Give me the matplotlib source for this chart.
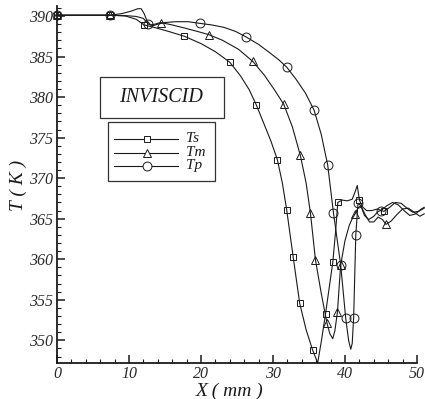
import matplotlib
matplotlib.use("Agg")
import matplotlib.pyplot as plt
from matplotlib.lines import Line2D
from matplotlib.patches import Rectangle
from matplotlib.ticker import MultipleLocator

# ---- data: temperature profiles along X (mm) ----
ts_x = [0, 7.4, 9.5, 11.0, 12.1, 13.5, 15.5, 17.7, 20.0, 22.0, 24.0, 25.5, 26.7, 27.7,
        28.7, 29.7, 30.6, 31.3, 31.9, 32.8, 33.7, 34.6, 35.5, 35.9, 36.2, 36.7, 37.3,
        38.3, 38.7, 39.0, 39.6, 40.3, 41.0, 41.4, 41.7, 42.0, 42.4, 43.0, 43.7, 44.5,
        45.4, 46.2, 47.0, 47.8, 48.6, 49.4, 50.2, 51.0]
ts_t = [390.1, 390.1, 390.0, 389.6, 388.9, 388.6, 388.1, 387.5, 386.6, 385.6, 384.3,
        382.6, 380.9, 379.0, 376.8, 374.6, 372.3, 369.4, 366.1, 360.3, 354.6, 351.3,
        348.8, 347.9, 347.2, 349.8, 353.3, 359.6, 363.5, 367.0, 367.3, 367.2, 367.4,
        368.3, 369.1, 367.3, 366.5, 366.0, 366.0, 366.2, 365.9, 366.4, 367.0, 366.9,
        366.3, 365.8, 365.9, 366.3]
ts_marks = [0, 7.4, 12.1, 17.7, 24.0, 27.7, 30.6, 31.9, 32.8, 33.7, 35.5, 37.3, 38.3,
            39.0, 42.0, 45.4]

tm_x = [0, 7.4, 9.0, 10.3, 11.2, 11.7, 12.1, 12.5, 13.0, 13.6, 14.4, 16.0, 17.8, 19.5,
        21.1, 23.0, 25.2, 27.2, 28.8, 30.2, 31.5, 32.7, 33.8, 34.6, 35.2, 35.9, 36.7,
        37.5, 37.9, 38.3, 38.6, 38.95, 39.4, 40.0, 40.6, 41.0, 41.4, 41.8, 42.2, 42.8,
        43.4, 44.0, 44.6, 45.2, 45.7, 46.4, 47.2, 48.0, 48.8, 49.6, 50.4, 51.0]
tm_t = [390.1, 390.1, 390.3, 390.6, 390.9, 390.9, 390.3, 389.4, 388.9, 389.0, 389.2,
        388.9, 388.5, 388.1, 387.7, 387.0, 385.9, 384.4, 382.7, 380.9, 379.1, 376.3,
        372.8, 369.4, 365.7, 359.9, 355.8, 352.1, 350.8, 350.2, 351.2, 353.5, 359.3,
        362.3, 364.2, 365.0, 365.6, 366.3, 366.6, 365.5, 364.6, 364.6, 365.2, 364.9,
        364.3, 364.7, 365.5, 366.2, 366.3, 365.8, 365.3, 365.6]
tm_marks = [0, 7.4, 14.4, 21.1, 27.2, 31.5, 33.8, 35.2, 35.9, 37.5, 38.95, 39.4, 41.4,
            45.7]

tp_x = [0, 7.4, 9.5, 11.0, 12.0, 12.7, 13.3, 14.0, 15.0, 16.5, 18.2, 19.8, 21.5, 23.2,
        24.8, 26.3, 28.0, 29.5, 30.8, 31.9, 33.2, 34.5, 35.7, 36.7, 37.6, 38.4, 39.4,
        40.1, 40.5, 40.8, 41.0, 41.2, 41.5, 41.8, 42.2, 42.7, 43.3, 44.0, 44.6, 45.0,
        45.8, 46.6, 47.4, 48.2, 49.0, 49.8, 50.6, 51.0]
tp_t = [390.1, 390.1, 390.05, 389.95, 389.7, 389.0, 388.8, 389.0, 389.2, 389.3, 389.3,
        389.1, 388.9, 388.6, 388.1, 387.4, 386.5, 385.5, 384.6, 383.7, 382.2, 380.5,
        378.4, 375.4, 371.6, 365.7, 359.3, 352.7, 350.0, 348.9, 349.6, 352.8, 363.0,
        366.9, 366.6, 365.4, 364.9, 365.3, 365.9, 366.0, 366.6, 367.0, 366.7, 366.0,
        365.4, 365.6, 366.2, 366.4]
tp_marks = [0, 7.4, 12.7, 19.8, 26.3, 31.9, 35.7, 37.6, 38.4, 39.4, 40.1, 41.2, 41.5,
            41.8, 45.0]

series_labels = ["Ts", "Tm", "Tp"]
x_ticks = [0, 10, 20, 30, 40, 50]
y_ticks = [350, 355, 360, 365, 370, 375, 380, 385, 390]
panel_title = "INVISCID"

W, H = 425, 399
fig = plt.figure(figsize=(W / 100, H / 100), dpi=100)
plt.rcParams["font.family"] = ["Liberation Serif", "DejaVu Serif"]


def fx(px):
    return px / W


def fy(py):
    return 1 - py / H


ax = fig.add_axes([fx(57), fy(363), fx(424.2) - fx(57), fy(6.3) - fy(363)])
ax.set_xlim(0, 51)
ax.set_ylim(347.2, 391.2)

ink = "#1a1a1a"
styles = [("s", 4.6), ("^", 5.2), ("o", 6.4)]
curves = [(ts_x, ts_t, ts_marks), (tm_x, tm_t, tm_marks), (tp_x, tp_t, tp_marks)]
handles = []
for (xs, ts, marks), (mk, ms), lab in zip(curves, styles, series_labels):
    idx = [xs.index(m) for m in marks]
    ax.plot(xs, ts, color=ink, lw=0.8, marker=mk, ms=ms, mfc="none", mec=ink,
            mew=0.7, markevery=idx, clip_on=False, zorder=3)
    handles.append((mk, ms, lab))

for side in ("top", "right"):
    ax.spines[side].set_visible(False)
ax.spines["bottom"].set_bounds(0, 50)
for side in ("left", "bottom"):
    ax.spines[side].set_linewidth(1.3)
    ax.spines[side].set_color(ink)

ax.set_xticks(x_ticks)
ax.set_yticks(y_ticks)
ax.xaxis.set_minor_locator(MultipleLocator(2))
ax.yaxis.set_minor_locator(MultipleLocator(1))
ax.tick_params(which="major", direction="in", length=6, width=1.1, color=ink,
               labelsize=11.5, labelcolor="#2a2a2a")
ax.tick_params(which="minor", direction="in", length=3, width=0.8, color=ink)
ax.tick_params(axis="y", pad=3)
ax.tick_params(axis="x", pad=2)
for lbl in ax.get_xticklabels() + ax.get_yticklabels():
    lbl.set_fontstyle("italic")

fig.text(fx(230), fy(391), "X ( mm )", fontsize=14, style="italic",
         ha="center", va="center", color=ink)
fig.text(fx(18), fy(185), "T ( K )", fontsize=14, style="italic", rotation=90,
         ha="center", va="center", color=ink)

# title box
fig.add_artist(Rectangle((fx(100), fy(118)), fx(224) - fx(100), fy(77) - fy(118),
                         transform=fig.transFigure, fill=False, ec="#333333", lw=0.9))
fig.text(fx(161), fy(98), panel_title, fontsize=14.5, style="italic",
         ha="center", va="center", color=ink)

# legend box
fig.add_artist(Rectangle((fx(108), fy(181)), fx(215) - fx(108), fy(122) - fy(181),
                         transform=fig.transFigure, fill=False, ec="#333333", lw=0.9))
rows = [139, 153, 166]
for (mk, ms, lab), ry in zip(handles, rows):
    fig.add_artist(Line2D([fx(114), fx(178)], [fy(ry), fy(ry)], transform=fig.transFigure,
                          color=ink, lw=0.8))
    fig.add_artist(Line2D([fx(147)], [fy(ry)], transform=fig.transFigure, marker=mk,
                          ms=ms, mfc="white", mec=ink, mew=0.7, ls="none"))
    fig.text(fx(186), fy(ry), lab, fontsize=11, style="italic", ha="left",
             va="center", color=ink)

fig.savefig("out.png", dpi=100, facecolor="white")
